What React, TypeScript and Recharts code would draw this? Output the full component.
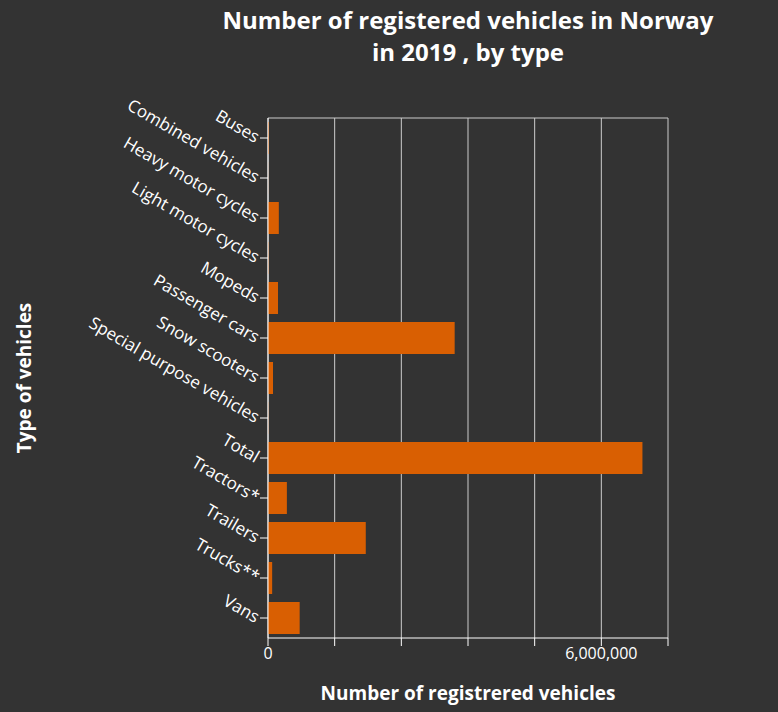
import { BarChart, Bar, XAxis, YAxis, CartesianGrid } from 'recharts';

document.body.style.margin = '0';

const categories = [
    'Buses', 'Combined vehicles', 'Heavy motor cycles', 'Light motor cycles', 'Mopeds',
    'Passenger cars', 'Snow scooters', 'Special purpose vehicles', 'Total', 'Tractors*',
    'Trailers', 'Trucks**', 'Vans',
];
const values = [
    17000, 3000, 195000, 10000, 180000, 3360000, 90000, 6000, 6740000, 340000, 1760000, 75000, 570000,
];
const xTicks = [0, 1200000, 2400000, 3600000, 4800000, 6000000, 7200000];

const data = categories.map((name, i) => ({ name, value: values[i] }));

const CategoryTick = (props: any) => {
    const { x, y, payload } = props;
    return (
        <text x={x} y={y} transform={`rotate(30 ${x} ${y})`} textAnchor="end" dy={6}
            fill="#ffffff" fontSize={17} fontFamily="Open Sans">
            {payload.value}
        </text>
    );
};

export default function App() {
    return (
        <div style={{ position: 'relative', width: 778, height: 712, background: '#333333', fontFamily: 'Open Sans' }}>
            <div style={{ position: 'absolute', left: 168, width: 600, top: 4, textAlign: 'center', color: '#fff', fontWeight: 700, fontSize: 24, lineHeight: '32px' }}>
                Number of registered vehicles in Norway<br />in 2019 , by type
            </div>
            <BarChart width={778} height={712} data={data} layout="vertical"
                margin={{ top: 118, right: 110, left: 0, bottom: 0 }} barCategoryGap="10%">
                <CartesianGrid stroke="#cccccc" horizontalCoordinatesGenerator={() => [118]} />
                <XAxis type="number" domain={[0, 7200000]} ticks={xTicks} height={74}
                    tickFormatter={(v: number) => (v === 0 || v === 6000000 ? v.toLocaleString('en-US') : '')}
                    stroke="#ffffff" tick={{ fill: '#ffffff', fontSize: 16 }} tickSize={8}
                    label={{ value: 'Number of registrered vehicles', position: 'insideBottom', offset: 12, fill: '#ffffff', fontSize: 19, fontWeight: 700 }} />
                <YAxis type="category" dataKey="name" width={268} stroke="#ffffff" interval={0}
                    tick={<CategoryTick />} tickSize={8}
                    label={{ value: 'Type of vehicles', angle: -90, position: 'insideLeft', offset: 24, dy: 0, fill: '#ffffff', fontSize: 19, fontWeight: 700, style: { textAnchor: 'middle' } }} />
                <Bar dataKey="value" fill="#d95f02" isAnimationActive={false} />
            </BarChart>
        </div>
    );
}
